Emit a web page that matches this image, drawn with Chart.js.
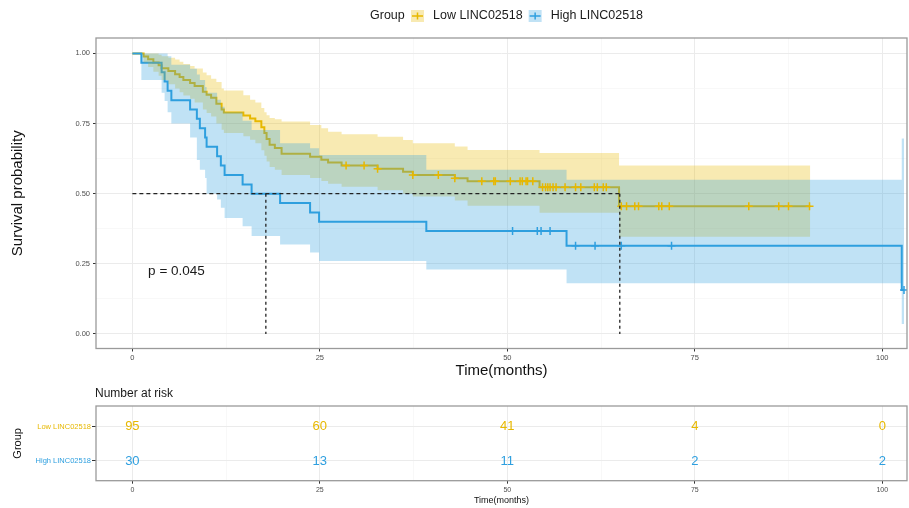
<!DOCTYPE html>
<html>
<head>
<meta charset="utf-8">
<script src="https://cdn.jsdelivr.net/npm/chart.js@4.4.1/dist/chart.umd.min.js"></script>
<style>
  body { margin: 0; background: #fff; }
  canvas { display: block; }
</style>
</head>
<body>
<canvas id="km" width="909" height="383"></canvas>
<canvas id="risk" width="909" height="125"></canvas>
<script>
Chart.defaults.font.family = '"Liberation Sans", Arial, sans-serif'
Chart.defaults.color = '#4D4D4D'

// groups + colours
const groups     = ['Low LINC02518', 'High LINC02518']
const lineColors = ['#E7B800', '#2E9FDF']
const bandColors = ['rgba(231,184,0,0.3)', 'rgba(46,159,223,0.3)']

// Low LINC02518: event times, survival, 95% CI
const lowTime  = [0, 1.5, 2.1, 2.8, 3.5, 3.9, 4.8, 5.7, 6.3, 6.8, 7.7, 8.3, 9.4, 9.9, 10.5, 11.2, 11.9, 12.2, 14.8, 15.7,
                  16.4, 17.2, 17.6, 17.9, 18.3, 19.0, 19.9, 23.7, 25.2, 26.1, 27.9, 32.7, 36.1, 37.4, 43.0, 44.7, 54.3, 64.9, 90.4]
const lowSurv  = [1, .989, .979, .968, .958, .947, .937, .926, .916, .905, .895, .884, .863, .853, .842, .821, .800, .789, .779, .768,
                  .758, .737, .716, .695, .674, .663, .642, .632, .621, .611, .600, .589, .578, .567, .555, .544, .523, .455, .455]
const lowUpper = [1, 1, 1, 1, .995, .99, .985, .978, .97, .962, .955, .946, .932, .922, .91, .898, .875, .868, .851, .835,
                  .825, .805, .79, .78, .77, .765, .757, .745, .733, .721, .712, .703, .691, .68, .668, .656, .645, .60, .60]
const lowLower = [1, .968, .952, .935, .92, .905, .89, .875, .862, .85, .838, .825, .80, .788, .775, .75, .728, .716, .705, .692,
                  .68, .655, .635, .615, .595, .585, .567, .556, .545, .535, .525, .512, .50, .49, .476, .457, .432, .346, .346]
const lowCensor = [28.5, 30.9, 32.7, 37.4, 40.8, 43.0, 46.6, 48.2, 48.4, 50.4, 51.7, 52.0, 52.5, 52.7, 53.4, 54.7, 55.1, 55.4,
                   55.7, 56.1, 56.5, 57.7, 59.1, 59.8, 61.6, 62.0, 62.8, 63.2, 65.2, 65.9, 67.0, 67.5, 70.2, 70.6, 71.6,
                   82.2, 86.2, 87.5, 90.3]

// High LINC02518
const highTime  = [0, 1.2, 3.9, 4.3, 4.7, 5.2, 7.7, 8.6, 9.0, 9.7, 9.9, 11.3, 11.8, 12.3, 14.7, 15.9, 19.7, 23.7, 24.9, 39.2, 57.9, 102.6, 102.9]
const highSurv  = [1, .967, .933, .9, .867, .833, .8, .767, .733, .7, .667, .633, .6, .567, .533, .5, .467, .433, .4, .367, .314, .157, .157]
const highUpper = [1, 1, 1, 1, .99, .96, .945, .925, .905, .88, .86, .835, .81, .79, .76, .727, .68, .662, .638, .585, .55, .697, .697]
const highLower = [1, .905, .86, .83, .79, .75, .70, .62, .585, .556, .50, .479, .45, .413, .384, .349, .319, .29, .26, .23, .181, .035, .035]
const highCensor = [50.7, 54.0, 54.5, 55.7, 59.1, 61.7, 65.2, 71.9, 102.9]

const medians = [65, 17.8]   // low, high
const pValue  = 'p = 0.045'

// ticks + risk table
const xTicks    = [0, 12.5, 25, 37.5, 50, 62.5, 75, 87.5, 100]
const yTicks    = [0, 0.125, 0.25, 0.375, 0.5, 0.625, 0.75, 0.875, 1]
const riskTimes = [0, 25, 50, 75, 100]
const riskLow   = [95, 60, 41, 4, 0]
const riskHigh  = [30, 13, 11, 2, 2]

const X_MIN = -4.85, X_MAX = 103.3

const pts = (t, v) => t.map((x, i) => ({ x, y: v[i] }))
const survAt = (t, s, at) => {
  let v = s[0]
  t.forEach((ti, i) => { if (ti <= at) v = s[i] })
  return v
}
const censorPts = (c, t, s) => c.map(x => ({ x, y: survAt(t, s, x) }))

const isMajorX = v => Math.abs(v % 25) < 1e-6
const isMajorY = v => Math.abs(v * 4 - Math.round(v * 4)) < 1e-6

const gridOpts = isMajor => ({
  color:     c => (c.tick && isMajor(c.tick.value)) ? '#EBEBEB' : '#F4F4F4',
  lineWidth: c => (c.tick && isMajor(c.tick.value)) ? 1 : 0.6,
  tickColor: c => (c.tick && isMajor(c.tick.value)) ? '#333' : 'rgba(0,0,0,0)',
  tickLength: 3,
  tickWidth: 1,
})

const panelBorder = {
  id: 'panelBorder',
  afterDraw(chart) {
    const { ctx, chartArea: a } = chart
    ctx.save()
    ctx.strokeStyle = '#9a9a9a'
    ctx.lineWidth = 1.3
    ctx.strokeRect(a.left, a.top, a.right - a.left, a.bottom - a.top)
    ctx.restore()
  }
}

const kmLegend = {
  id: 'kmLegend',
  afterDraw(chart) {
    const ctx = chart.ctx
    const y = 16
    ctx.save()
    ctx.font = '12.5px "Liberation Sans", Arial, sans-serif'
    ctx.textBaseline = 'middle'
    ctx.fillStyle = '#1a1a1a'
    ctx.fillText('Group', 370, y)
    let x = 411
    groups.forEach((g, i) => {
      ctx.fillStyle = '#fff'
      ctx.fillRect(x, y - 6, 13, 12)
      ctx.fillStyle = bandColors[i]
      ctx.fillRect(x, y - 6, 13, 12)
      ctx.strokeStyle = lineColors[i]
      ctx.lineWidth = 1.5
      ctx.beginPath()
      ctx.moveTo(x + 1, y); ctx.lineTo(x + 12, y)
      ctx.moveTo(x + 6.5, y - 3.5); ctx.lineTo(x + 6.5, y + 3.5)
      ctx.stroke()
      ctx.fillStyle = '#1a1a1a'
      ctx.fillText(g, x + 22, y)
      x += 22 + ctx.measureText(g).width + 6
    })
    ctx.restore()
  }
}

const pLabel = {
  id: 'pLabel',
  afterDatasetsDraw(chart) {
    const { ctx, scales } = chart
    ctx.save()
    ctx.font = '13.5px "Liberation Sans", Arial, sans-serif'
    ctx.fillStyle = '#1a1a1a'
    ctx.textBaseline = 'middle'
    ctx.fillText(pValue, scales.x.getPixelForValue(2.1), scales.y.getPixelForValue(0.222))
    ctx.restore()
  }
}

const stepLine = (data, color) => ({
  data, borderColor: color, borderWidth: 2, stepped: true,
  pointRadius: 0, fill: false,
})
const band = (data, color, fillTo) => ({
  data, borderWidth: 0, borderColor: 'rgba(0,0,0,0)', stepped: true,
  pointRadius: 0, backgroundColor: color, fill: fillTo,
})
const censor = (data, color) => ({
  data, showLine: false, pointStyle: 'cross', pointRadius: 4,
  pointBorderWidth: 1.5, pointBorderColor: color, borderColor: color,
})
const dash = (data, pattern) => ({
  data, borderColor: '#222', borderWidth: 1.3, borderDash: pattern,
  pointRadius: 0, fill: false,
})

// index 0 is painted last (on top): medians > censors > bands > curves
new Chart(document.getElementById('km'), {
  type: 'line',
  data: {
    datasets: [
      dash([{ x: 0, y: 0.5 }, { x: medians[0], y: 0.5 }], [4, 3]),
      dash([{ x: medians[0], y: 0.5 }, { x: medians[0], y: 0 }], [3, 3]),
      dash([{ x: medians[1], y: 0.5 }, { x: medians[1], y: 0 }], [3, 3]),
      censor(censorPts(lowCensor, lowTime, lowSurv), lineColors[0]),
      censor(censorPts(highCensor, highTime, highSurv), lineColors[1]),
      band(pts(highTime, highUpper), bandColors[1], '+1'),
      band(pts(highTime, highLower), bandColors[1], false),
      band(pts(lowTime, lowUpper), bandColors[0], '+1'),
      band(pts(lowTime, lowLower), bandColors[0], false),
      stepLine(pts(highTime, highSurv), lineColors[1]),
      stepLine(pts(lowTime, lowSurv), lineColors[0]),
    ]
  },
  options: {
    responsive: false,
    animation: false,
    events: [],
    layout: { autoPadding: false, padding: { top: 38, right: 2, left: 0, bottom: 0 } },
    plugins: { legend: { display: false }, tooltip: { enabled: false } },
    scales: {
      x: {
        type: 'linear', min: X_MIN, max: X_MAX,
        afterBuildTicks: s => { s.ticks = xTicks.map(value => ({ value })) },
        afterFit: s => { s.height = 34.5 },
        grid: gridOpts(isMajorX),
        border: { display: false },
        ticks: {
          autoSkip: false, maxRotation: 0, padding: 2,
          font: { size: 7.5 }, color: '#4D4D4D',
          callback: v => isMajorX(v) ? String(v) : '',
        },
        title: { display: true, text: 'Time(months)', color: '#111', font: { size: 15 }, padding: { top: 0, bottom: 3 } },
      },
      y: {
        type: 'linear', min: -0.052, max: 1.055,
        afterBuildTicks: s => { s.ticks = yTicks.map(value => ({ value })) },
        afterFit: s => { s.width = 96 },
        grid: gridOpts(isMajorY),
        border: { display: false },
        ticks: {
          autoSkip: false, padding: 3,
          font: { size: 7.5 }, color: '#4D4D4D',
          callback: v => isMajorY(v) ? v.toFixed(2) : '',
        },
        title: { display: true, text: 'Survival probability', color: '#111', font: { size: 15 }, padding: { top: 9, bottom: 0 } },
      },
    },
  },
  plugins: [kmLegend, pLabel, panelBorder],
})

// ---- Number at risk table
const riskNumbers = {
  id: 'riskNumbers',
  afterDatasetsDraw(chart) {
    const ctx = chart.ctx
    ctx.save()
    ctx.font = '13px "Liberation Sans", Arial, sans-serif'
    ctx.textAlign = 'center'
    ctx.textBaseline = 'middle'
    chart.data.datasets.forEach((ds, i) => {
      ctx.fillStyle = lineColors[i]
      chart.getDatasetMeta(i).data.forEach((el, j) => {
        ctx.fillText(String(ds.data[j].n), el.x, el.y)
      })
    })
    ctx.font = '12px "Liberation Sans", Arial, sans-serif'
    ctx.textAlign = 'left'
    ctx.fillStyle = '#1a1a1a'
    ctx.fillText('Number at risk', 95, 11)
    ctx.restore()
  }
}

new Chart(document.getElementById('risk'), {
  type: 'line',
  data: {
    datasets: [
      { data: riskTimes.map((x, i) => ({ x, y: 1, n: riskLow[i] })),  showLine: false, pointRadius: 0 },
      { data: riskTimes.map((x, i) => ({ x, y: 2, n: riskHigh[i] })), showLine: false, pointRadius: 0 },
    ]
  },
  options: {
    responsive: false,
    animation: false,
    events: [],
    layout: { autoPadding: false, padding: { top: 23, right: 2, left: 0, bottom: 0 } },
    plugins: { legend: { display: false }, tooltip: { enabled: false } },
    scales: {
      x: {
        type: 'linear', min: X_MIN, max: X_MAX,
        afterBuildTicks: s => { s.ticks = xTicks.map(value => ({ value })) },
        afterFit: s => { s.height = 27.3 },
        grid: gridOpts(isMajorX),
        border: { display: false },
        ticks: {
          autoSkip: false, maxRotation: 0, padding: 2,
          font: { size: 7 }, color: '#4D4D4D',
          callback: v => isMajorX(v) ? String(v) : '',
        },
        title: { display: true, text: 'Time(months)', color: '#111', font: { size: 9 }, padding: { top: 0, bottom: 2.5 } },
      },
      y: {
        type: 'linear', reverse: true, min: 0.397, max: 2.576,
        afterBuildTicks: s => { s.ticks = [1, 2].map(value => ({ value })) },
        afterFit: s => { s.width = 96 },
        grid: { color: '#EBEBEB', tickColor: '#333', tickLength: 4 },
        border: { display: false },
        ticks: {
          autoSkip: false, padding: 1,
          font: { size: 7.5 },
          color: c => lineColors[c.index] || '#4D4D4D',
          callback: v => groups[v - 1],
        },
        title: { display: true, text: 'Group', color: '#111', font: { size: 11 }, padding: { top: 11.4, bottom: 0 } },
      },
    },
  },
  plugins: [riskNumbers, panelBorder],
})
</script>
</body>
</html>
